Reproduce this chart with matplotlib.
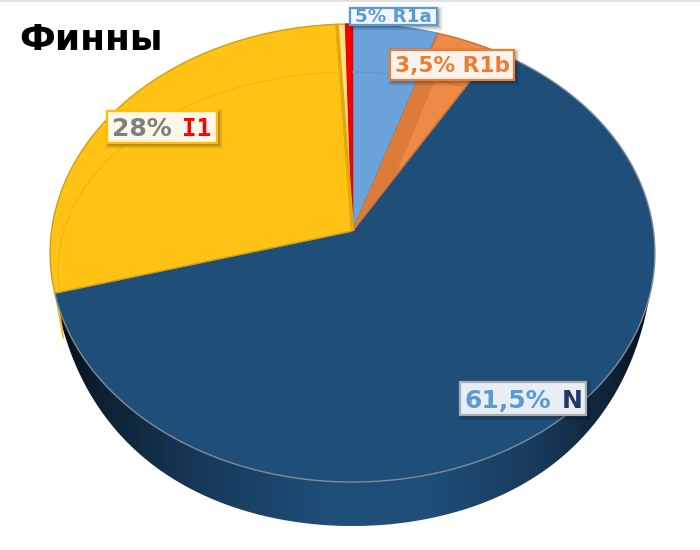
import numpy as np
import matplotlib
matplotlib.use('Agg')
import matplotlib.pyplot as plt
from matplotlib.colors import LinearSegmentedColormap
from matplotlib.patches import Polygon, Rectangle

# shares as they look on the picture, clockwise from 12 o'clock
slice_names = ['R1a', 'R1b', 'N', 'I1', 'other', 'red']
slice_values = [5.0, 3.5, 62.2, 28.4, 0.5, 0.4]
slice_colors = ['#6aa3da', '#ed8a46', '#1f4e79', '#fec315', '#ffe08a', '#ff0000']
edge_colors = ['#5b93c9', '#c9702f', '#7f8c99', '#cfa012', '#d8a510', '#e00000']
title_text = 'Финны'

# apex of the pie and the perspective of the disc
cx, cy = 352.5, 231
R, c, k = 301, 226.9, 0.0961
depth = 44

def project(t, r=1.0):
    x = r*np.sin(t)
    y = r*np.cos(t)
    w = 1 + k*y
    return cx + R*x/w, cy - c*y/w

fig = plt.figure(figsize=(7, 5.5), dpi=100)
ax = fig.add_axes([0, 0, 1, 1])
ax.set_xlim(0, 700)
ax.set_ylim(550, 0)
ax.axis('off')

ax.add_patch(Rectangle((0, 0), 700, 1.5, color='#e2e2e2', lw=0))

edges = np.cumsum([0] + slice_values)/100*2*np.pi
order = [2, 3, 0, 1, 4, 5]

# outer wall of the N slice, dark towards both ends
wall = np.linspace(np.pi/2, edges[3], 300)
xw, yw = project(wall)
u = np.clip((yw - cy - 66)/185, 0, 1)
dw = depth*(1 - (1 - u)**2)
wall_pts = list(zip(xw, yw - 1)) + list(zip(xw[::-1], (yw + dw)[::-1]))
wall_patch = Polygon(wall_pts, fc='none', ec='none')
ax.add_patch(wall_patch)
wall_cmap = LinearSegmentedColormap.from_list('wall', [
    (0.0, '#060d15'), (0.08, '#0e2235'), (0.25, '#173a5b'), (0.45, '#1f4e79'),
    (0.62, '#1f4e79'), (0.80, '#183b5c'), (0.93, '#0e2236'), (1.0, '#05090f')])
im = ax.imshow(np.linspace(0, 1, 400).reshape(1, -1), cmap=wall_cmap, aspect='auto',
               extent=[55, 657, 550, 0])
im.set_clip_path(wall_patch)
ax.set_xlim(0, 700)
ax.set_ylim(550, 0)

# cut face showing under the yellow slice
xe, ye = project(edges[3])
ax.add_patch(Polygon([(xe, ye), (xe+3, ye), (xe+9, ye+45), (xe+8, ye+45)],
                     fc='#efb414', ec='#efb414', lw=0.3))

# top faces
faces = {}
for i in order:
    t = np.linspace(edges[i], edges[i+1], 200)
    xs, ys = project(t)
    pts = [(cx, cy)] + list(zip(xs, ys))
    faces[i] = Polygon(pts, closed=True, fc=slice_colors[i], ec=edge_colors[i], lw=1.0, joinstyle='round')
    ax.add_patch(faces[i])

# darker wedge inside the orange slice
p1 = project(edges[1], 0.76)
p2 = project(np.radians(22.4), 0.77)
p3 = project(np.radians(29.9), 0.30)
ax.add_patch(Polygon([(cx, cy), p1, p2, p3], fc='#dc7c3b', ec='none'))

# darker band along the end of the yellow slice
xb, yb = project(edges[4])
ax.plot([cx, xb], [cy, yb], color='#e0aa0c', lw=2.6, solid_capstyle='butt')

# faint inner bevel on yellow, blue, orange
bevel = np.linspace(0, 2*np.pi, 400)
for i, col in [(0, '#5f9ad3'), (1, '#d9793d'), (3, '#f2b70e')]:
    line, = ax.plot(353 + 295*np.sin(bevel), 270 - 198*np.cos(bevel), color=col, lw=0.9)
    line.set_clip_path(faces[i])

ax.text(19, 50, title_text, fontsize=26, fontweight='bold', color='black', family='DejaVu Sans')

def draw_label(x0, y0, x1, y1, edge, face, parts, size, tx, ty):
    # soft shadow first
    for g, alpha in [(4, 0.03), (3, 0.05), (2, 0.07), (1, 0.09), (0, 0.12)]:
        ax.add_patch(Rectangle((x0-g+2, y0-g+2), x1-x0+2*g, y1-y0+2*g, fc='black', ec='none', alpha=alpha, zorder=5))
    ax.add_patch(Rectangle((x0, y0), x1-x0, y1-y0, fc=face, ec=edge, lw=1.6, zorder=6))
    r = fig.canvas.get_renderer()
    for s, color, fam in parts:
        t = ax.text(tx, ty, s, fontsize=size, fontweight='bold', color=color, family=fam, va='baseline', zorder=7)
        tx = ax.transData.inverted().transform(t.get_window_extent(r))[1][0] + 0.5

draw_label(349.5, 7.5, 437, 25, '#5b9bd5', '#f2f6fb',
           [('5% R1a', '#5b9bd5', 'DejaVu Sans')], 13.2, 355, 22.5)
draw_label(390, 50, 514, 80, '#ed7d31', '#faf3ee',
           [('3,5% R1b', '#ed7d31', 'DejaVu Sans')], 15.6, 395, 72)
draw_label(107, 111, 217, 143, '#fec000', '#fdf7ea',
           [('28%', '#7f7f7f', 'DejaVu Sans')], 18, 112, 136.5)
ax.text(182, 136.5, 'I1', fontsize=17.5, fontweight='bold', color='#ff0000',
        family='DejaVu Sans Mono', zorder=7)
draw_label(460, 382, 586, 415, '#a9aeb3', '#e9eef4',
           [('61,5%', '#5b9bd5', 'DejaVu Sans')], 18, 465, 408.5)
ax.text(562, 408.5, 'N', fontsize=18, fontweight='bold', color='#1f3864',
        family='DejaVu Sans', zorder=7)

fig.savefig('out.png', dpi=100)
